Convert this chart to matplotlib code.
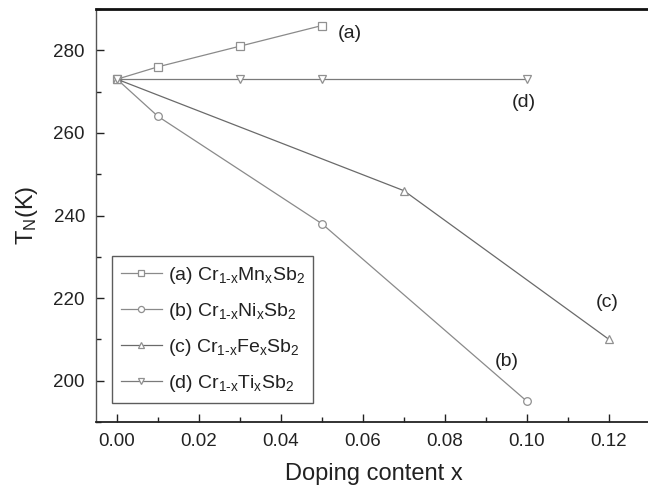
import matplotlib
matplotlib.use("Agg")
import matplotlib.pyplot as plt
from matplotlib.ticker import MultipleLocator, FormatStrFormatter

plt.rcParams['font.family'] = ['Liberation Sans', 'DejaVu Sans']
plt.rcParams['mathtext.fontset'] = 'custom'
plt.rcParams['mathtext.rm'] = 'Liberation Sans'
plt.rcParams['mathtext.it'] = 'Liberation Sans'

# Néel temperature vs doping content
x_mn = [0.0, 0.01, 0.03, 0.05]
t_mn = [273, 276, 281, 286]
x_ni = [0.0, 0.01, 0.05, 0.10]
t_ni = [273, 264, 238, 195]
x_fe = [0.0, 0.07, 0.12]
t_fe = [273, 246, 210]
x_ti = [0.0, 0.03, 0.05, 0.10]
t_ti = [273, 273, 273, 273]

labels = [r'(a) Cr$_{\mathrm{1\text{-}x}}$Mn$_{\mathrm{x}}$Sb$_{\mathrm{2}}$',
          r'(b) Cr$_{\mathrm{1\text{-}x}}$Ni$_{\mathrm{x}}$Sb$_{\mathrm{2}}$',
          r'(c) Cr$_{\mathrm{1\text{-}x}}$Fe$_{\mathrm{x}}$Sb$_{\mathrm{2}}$',
          r'(d) Cr$_{\mathrm{1\text{-}x}}$Ti$_{\mathrm{x}}$Sb$_{\mathrm{2}}$']

fig = plt.figure(figsize=(6.48, 4.92), dpi=100)
ax = fig.add_axes([96/648, 70/492, 556/648, 413/492])

series = [(x_mn, t_mn, 's', '#8a8a8a'),
          (x_ni, t_ni, 'o', '#8a8a8a'),
          (x_fe, t_fe, '^', '#6a6a6a'),
          (x_ti, t_ti, 'v', '#7a7a7a')]

for (xs, ys, m, c), lab in zip(series, labels):
    ax.plot(xs, ys, color=c, lw=0.9, marker=m, markersize=5.5,
            markerfacecolor='white', markeredgecolor='#909090',
            markeredgewidth=0.9, label=lab)

ax.set_xlim(-0.00512, 0.1305)
ax.set_ylim(190, 290)
ax.xaxis.set_major_locator(MultipleLocator(0.02))
ax.xaxis.set_minor_locator(MultipleLocator(0.01))
ax.yaxis.set_major_locator(MultipleLocator(20))
ax.yaxis.set_minor_locator(MultipleLocator(10))
ax.xaxis.set_major_formatter(FormatStrFormatter('%.2f'))
ax.tick_params(which='major', direction='in', length=6, width=1.0,
               labelsize=13.5, pad=8, colors='#222222')
ax.tick_params(which='minor', direction='in', length=3.5, width=1.0,
               colors='#222222')
ax.tick_params(top=False, right=False, which='both')

ax.spines['top'].set_linewidth(2.0)
ax.spines['top'].set_color('#111111')
ax.spines['bottom'].set_linewidth(1.3)
ax.spines['bottom'].set_color('#222222')
ax.spines['left'].set_linewidth(1.0)
ax.spines['left'].set_color('#555555')
ax.spines['right'].set_visible(False)

ax.set_xlabel('Doping content x', fontsize=17, color='#222222', labelpad=9)
ax.set_ylabel(r'T$_{\mathrm{N}}$(K)', fontsize=17, color='#222222', labelpad=10)

ax.text(0.0568, 284.1, '(a)', fontsize=14, ha='center', va='center', color='#222222')
ax.text(0.0993, 267.4, '(d)', fontsize=14, ha='center', va='center', color='#222222')
ax.text(0.1195, 218.9, '(c)', fontsize=14, ha='center', va='center', color='#222222')
ax.text(0.0951, 204.6, '(b)', fontsize=14, ha='center', va='center', color='#222222')

leg = ax.legend(loc='lower left', bbox_to_anchor=(0.029, 0.046),
                borderaxespad=0, fontsize=14,
                frameon=True, fancybox=False, edgecolor='#333333',
                handlelength=2.1, handletextpad=0.3, labelspacing=0.78,
                borderpad=0.45, markerscale=0.8)
leg.get_frame().set_linewidth(1.0)
for t in leg.get_texts():
    t.set_color('#222222')

fig.savefig('out.png', dpi=100)
